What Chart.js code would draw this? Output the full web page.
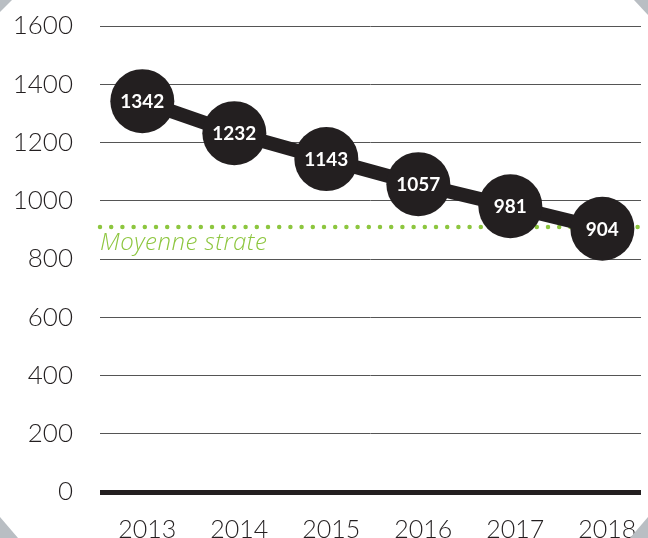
<!DOCTYPE html>
<html>
<head>
<meta charset="utf-8">
<script src="https://cdn.jsdelivr.net/npm/chart.js@4/dist/chart.umd.min.js"></script>
<style>
  html, body { margin: 0; padding: 0; background: #b9bec3; }
  #card {
    position: relative; width: 648px; height: 538px; background: #fff;
    clip-path: polygon(12px 0, 634px 0, 648px 15px, 648px 517px, 630px 538px, 18px 538px, 0 517px, 0 12px);
  }
  canvas { display: block; }
</style>
</head>
<body>
<div id="card"><canvas id="line_chart_canvas" width="648" height="538"></canvas></div>
<script>
var years = [2013, 2014, 2015, 2016, 2017, 2018];
var values = [1342, 1232, 1143, 1057, 981, 904];
var yMax = 1600;
var yStep = 200;
var average = 910;
var averageLabel = 'Moyenne strate';

var xMin = 2012.54;
var xMax = 2018.42;

// white numbers inside the big dots + the "Moyenne strate" caption
var labelsPlugin = {
  id: 'labels',
  afterDatasetsDraw: function(chart) {
    var ctx = chart.ctx;
    var meta = chart.getDatasetMeta(0);
    ctx.save();
    ctx.fillStyle = '#fff';
    ctx.font = 'bold 19px Lato';
    ctx.textAlign = 'center';
    ctx.textBaseline = 'middle';
    meta.data.forEach(function(pt, i) {
      ctx.fillText(String(values[i]), pt.x, pt.y + 1);
    });
    var x = chart.scales.x.getPixelForValue(xMin);
    var y = chart.scales.y.getPixelForValue(average);
    ctx.fillStyle = '#8dc63f';
    ctx.font = 'italic 300 24px "Open Sans"';
    ctx.letterSpacing = '0.5px';
    ctx.textAlign = 'left';
    ctx.textBaseline = 'alphabetic';
    ctx.fillText(averageLabel, x, y + 23);
    ctx.restore();
  }
};

var ctx = document.getElementById('line_chart_canvas').getContext('2d');
var chart = new Chart(ctx, {
    type: 'line',
    data: {
        datasets: [{
            label: 'Valeur',
            data: years.map(function(y, i) { return { x: y, y: values[i] }; }),
            borderColor: '#231f20',
            backgroundColor: '#231f20',
            borderWidth: 14,
            pointRadius: 32,
            pointBorderWidth: 0,
            pointBackgroundColor: '#231f20',
            tension: 0,
            clip: false,
            order: 0
        }, {
            label: averageLabel,
            data: [{ x: xMin, y: average }, { x: xMax, y: average }],
            borderColor: '#8dc63f',
            borderWidth: 4.5,
            borderDash: [0, 11.2],
            borderCapStyle: 'round',
            pointRadius: 0,
            clip: false,
            order: 1
        }]
    },
    options: {
        responsive: false,
        animation: false,
        layout: { autoPadding: false, padding: { top: 26, right: 7, left: 0, bottom: 0 } },
        plugins: { legend: { display: false }, tooltip: { enabled: false } },
        scales: {
            x: {
                type: 'linear',
                min: xMin,
                max: xMax,
                afterBuildTicks: function(s) { s.ticks = years.map(function(v) { return { value: v }; }); },
                afterFit: function(s) { s.height = 46; s.paddingLeft = 0; s.paddingRight = 0; },
                grid: { display: false },
                border: { display: false },
                ticks: {
                    color: '#231f20',
                    font: { family: 'Lato', size: 25, weight: 300 },
                    padding: 15,
                    labelOffset: 5,
                    maxRotation: 0,
                    callback: function(v) { return String(v); }
                }
            },
            y: {
                min: 0,
                max: yMax,
                afterFit: function(s) { s.width = 100; s.paddingTop = 0; s.paddingBottom = 0; },
                grid: {
                    drawTicks: false,
                    color: function(c) { return c.tick && c.tick.value === 0 ? '#231f20' : '#555'; },
                    lineWidth: function(c) { return c.tick && c.tick.value === 0 ? 5 : 1; }
                },
                border: { display: false },
                ticks: {
                    stepSize: yStep,
                    color: '#231f20',
                    padding: 27,
                    font: { family: 'Lato', size: 26, weight: 300 },
                    callback: function(v) { return String(v); }
                }
            }
        }
    },
    plugins: [labelsPlugin]
});
</script>
</body>
</html>
